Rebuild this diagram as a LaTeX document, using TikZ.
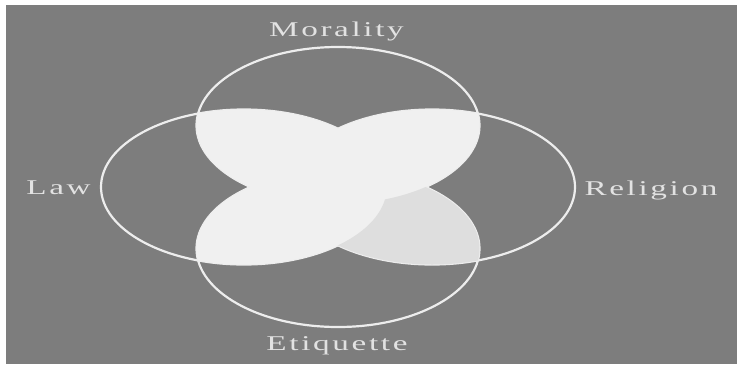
\documentclass[tikz,border=0pt]{standalone}
\usepackage{fontspec}
\setmainfont{Liberation Serif}[LetterSpace=8]
\definecolor{bggray}{HTML}{7D7D7D}
\definecolor{lobe}{HTML}{F0F0F0}
\definecolor{lobedark}{HTML}{DEDEDE}
\definecolor{ringwhite}{HTML}{EDEDED}
\definecolor{labelgray}{HTML}{E2E2E2}
\begin{document}
\begin{tikzpicture}[x=1pt,y=-1pt,
  lbl/.style={text=labelgray, font=\fontsize{21}{25}\selectfont, xscale=1.58, inner sep=0pt, anchor=base},
  ring/.style={draw=ringwhite, line width=2.2pt}]
\useasboundingbox (0,0) rectangle (737,365);
\fill[white] (0,0) rectangle (737,365);
\fill[bggray] (6,5) rectangle (737,364);
\def\TopE{(338,125.4) ellipse [x radius=141.5, y radius=78.4]}
\def\BotE{(338,248.6) ellipse [x radius=141.5, y radius=78.4]}
\def\LawE{(243.9,187) ellipse [x radius=142.9, y radius=77.5]}
\def\RelE{(432.1,187) ellipse [x radius=142.9, y radius=77.5]}
% outlines
\draw[ring] \TopE;
\draw[ring] \BotE;
\draw[ring] \LawE;
\draw[ring] \RelE;
% overlap lobes (cover the inner parts of the outlines)
\begin{scope}
  \clip \TopE \BotE;
  \fill[lobe] \LawE \RelE;
\end{scope}
% lower-right lobe, slightly darker
\begin{scope}[even odd rule]
  \clip \BotE;
  \clip \RelE;
  \clip (0,0) rectangle (737,365) \LawE;
  \clip (0,0) rectangle (737,365) \TopE;
  \fill[lobedark] (0,0) rectangle (737,365);
\end{scope}
% labels
\node[lbl] (mor) at (336.5,36.5) {Morality};
\node[lbl] (law) at (58.5,194.5) {Law};
\node[lbl] (rel) at (651,195) {Religion};
\node[lbl] (eti) at (337,350) {Etiquette};
\end{tikzpicture}
\end{document}
